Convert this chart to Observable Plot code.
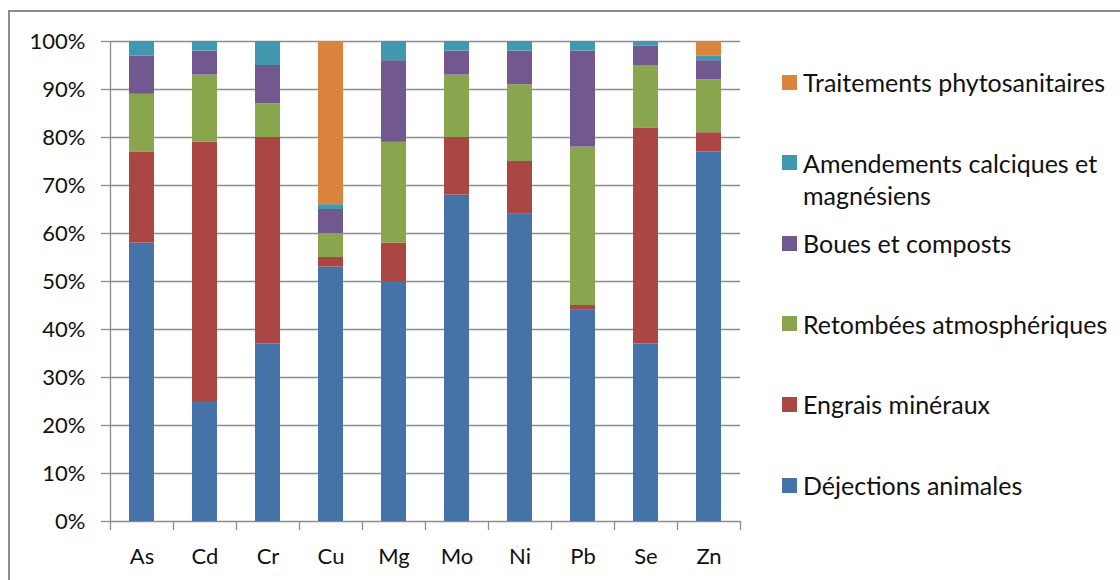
<!DOCTYPE html>
<html><head><meta charset="utf-8">
<script src="https://cdn.jsdelivr.net/npm/d3@7"></script>
<script src="https://cdn.jsdelivr.net/npm/@observablehq/plot@0.6"></script>
<style>
html,body{margin:0;padding:0;background:#fff;}
#wrap{position:relative;width:1120px;height:580px;overflow:hidden;font-family:Lato, sans-serif;background:#fff;}
#border{position:absolute;left:8px;top:10px;width:1200px;height:700px;border:2px solid #8c8c8c;pointer-events:none;}
.item{position:absolute;left:782px;display:flex;align-items:flex-start;font-size:25px;line-height:32px;color:#111;}
.sw{width:15px;height:15px;margin-top:8.5px;margin-right:6px;flex:none;}
.lab{width:318px;}
</style></head><body><div id="wrap"></div>
<script>
const categories = ["As","Cd","Cr","Cu","Mg","Mo","Ni","Pb","Se","Zn"];
const sources = ["Déjections animales","Engrais minéraux","Retombées atmosphériques","Boues et composts","Amendements calciques et magnésiens","Traitements phytosanitaires"];
const colors = ["#4572A7","#AA4643","#89A54E","#71588F","#4198AF","#DB843D"];
const dejections  = [58,25,37,53,50,68,64,44,37,77];
const engrais     = [19,54,43, 2, 8,12,11, 1,45, 4];
const retombees   = [12,14, 7, 5,21,13,16,33,13,11];
const boues       = [ 8, 5, 8, 5,17, 5, 7,20, 4, 4];
const amendements = [ 3, 2, 5, 1, 4, 2, 2, 2, 1, 1];
const traitements = [ 0, 0, 0,34, 0, 0, 0, 0, 0, 3];
const yTicks = [0,0.1,0.2,0.3,0.4,0.5,0.6,0.7,0.8,0.9,1];

const series = [dejections, engrais, retombees, boues, amendements, traitements];
const data = [];
categories.forEach((c, i) => series.forEach((s, j) => data.push({el: c, source: sources[j], value: s[i]})));

const W = 1120, H = 580, mL = 110, mR = 380, mT = 41, mB = 59;
const step = (W - mL - mR) / categories.length;
const gray = "#8c8c8c";

const plot = Plot.plot({
  width: W, height: H,
  marginLeft: mL, marginRight: mR, marginTop: mT, marginBottom: mB,
  style: {fontFamily: "Lato, sans-serif", fontSize: "22px", color: "#111", background: "transparent"},
  x: {domain: categories, paddingInner: 0.6, paddingOuter: 0.3, axis: null, label: null},
  y: {domain: [0, 1], axis: null, label: null},
  color: {domain: sources, range: colors},
  marks: [
    Plot.ruleY(yTicks, {stroke: gray, strokeWidth: 1.3}),
    Plot.barY(data, Plot.stackY({x: "el", y: "value", fill: "source", order: sources, offset: "normalize"})),
    Plot.ruleX([categories[0]], {y1: 0, y2: 1, dx: -step / 2, stroke: gray, strokeWidth: 1.3}),
    Plot.axisY({ticks: yTicks, tickFormat: d3.format(".0%"), tickSize: 9, tickPadding: 16, stroke: gray, strokeWidth: 1.3, fontSize: 22, fill: "#111", label: null}),
    Plot.axisX({ticks: categories, tickSize: 9, text: null, dx: -step / 2, stroke: gray, strokeWidth: 1.3, label: null}),
    Plot.axisX({ticks: [categories[categories.length - 1]], tickSize: 9, text: null, dx: step / 2, stroke: gray, strokeWidth: 1.3, label: null}),
    Plot.axisX({ticks: categories, tickSize: 0, tickPadding: 27, fontSize: 22, fill: "#111", label: null})
  ]
});

const wrap = document.getElementById("wrap");
wrap.appendChild(plot);
const border = document.createElement("div");
border.id = "border";
wrap.appendChild(border);

const legendOrder = sources.map((s, i) => i).reverse();
legendOrder.forEach((j, k) => {
  const center = 82 + k * 80.6;
  const item = document.createElement("div");
  item.className = "item";
  item.style.top = (center - 16) + "px";
  const sw = document.createElement("div");
  sw.className = "sw";
  sw.style.background = colors[j];
  const lab = document.createElement("div");
  lab.className = "lab";
  lab.textContent = sources[j];
  item.appendChild(sw);
  item.appendChild(lab);
  wrap.appendChild(item);
});
</script></body></html>
